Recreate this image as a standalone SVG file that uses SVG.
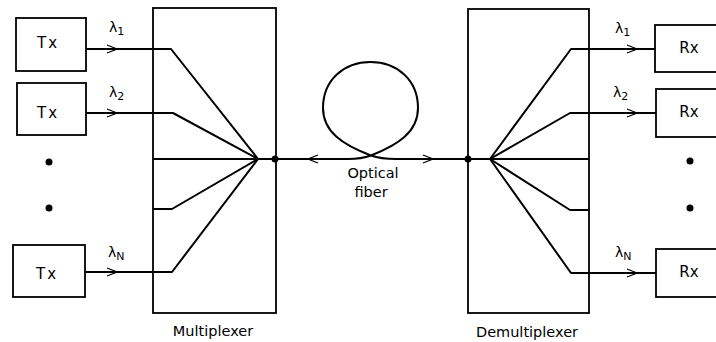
<svg xmlns="http://www.w3.org/2000/svg" width="716" height="342" viewBox="0 0 716 342">
<style>
.box{fill:none;stroke:#000;stroke-width:1.8}
.ln{fill:none;stroke:#000;stroke-width:2;stroke-linejoin:round}
.ar{fill:none;stroke:#000;stroke-width:1.3}
.t{font-family:"DejaVu Sans","Liberation Sans",sans-serif;font-size:15px;fill:#000;text-anchor:middle}
.s{font-family:"DejaVu Sans","Liberation Sans",sans-serif;font-size:14.5px;fill:#000;text-anchor:middle}
.l{font-family:"DejaVu Sans","Liberation Sans",sans-serif;font-size:14px;fill:#000}
</style>
<rect width="716" height="342" fill="#fff"/>
<g id="tx1"><rect class="box" x="16" y="18" width="70" height="53"/><text class="t" x="48" y="48" letter-spacing="2">Tx</text></g>
<g id="tx2"><rect class="box" x="17" y="83" width="69" height="52"/><text class="t" x="48" y="118" letter-spacing="2">Tx</text></g>
<g id="txN"><rect class="box" x="13" y="245" width="72" height="52"/><text class="t" x="47" y="279" letter-spacing="2">Tx</text></g>
<g id="dotsL"><circle cx="49" cy="162" r="3.5"/><circle cx="49" cy="208" r="3.5"/></g>
<g id="mux"><rect class="box" x="153" y="8" width="123" height="305"/><text class="s" x="213" y="336">Multiplexer</text></g>
<g id="demux"><rect class="box" x="468" y="9" width="121" height="304"/><text class="s" x="527" y="337">Demultiplexer</text></g>
<g id="rx1"><rect class="box" x="655" y="25" width="70" height="47"/><text class="t" x="689" y="53">Rx</text></g>
<g id="rx2"><rect class="box" x="656" y="89" width="70" height="48"/><text class="t" x="689" y="117">Rx</text></g>
<g id="rxN"><rect class="box" x="656" y="249" width="70" height="48"/><text class="t" x="689" y="277">Rx</text></g>
<g id="dotsR"><circle cx="690" cy="161" r="3.5"/><circle cx="690" cy="208" r="3.5"/></g>
<g id="labels">
<text class="l" x="109" y="32">λ<tspan font-size="11" dy="3">1</tspan></text>
<text class="l" x="109" y="97">λ<tspan font-size="11" dy="3">2</tspan></text>
<text class="l" x="108" y="257">λ<tspan font-size="11" dy="3">N</tspan></text>
<text class="l" x="615" y="33">λ<tspan font-size="11" dy="3">1</tspan></text>
<text class="l" x="613" y="97">λ<tspan font-size="11" dy="3">2</tspan></text>
<text class="l" x="615" y="257">λ<tspan font-size="11" dy="3">N</tspan></text>
<text class="s" x="373" y="178">Optical</text>
<text class="s" x="371" y="197">fiber</text>
</g>
<g id="connectors">
<polyline class="ln" points="86,49 171,49 258,159"/>
<polyline class="ln" points="86,113 173,113 258,159"/>
<polyline class="ln" points="153,159 258,159"/>
<polyline class="ln" points="153,209 172,209 258,159"/>
<polyline class="ln" points="85,272 172,272 258,159"/>
<path class="ar" d="M107,45 L117,49 L107,53 M107,109 L117,113 L107,117 M107,268 L117,272 L107,276"/>
<path class="ln" d="M258,159 L348,159 C358,159 364,158 371,155.5 C398,145 418,132 418,108 C418,80 397,62 370.5,62 C344,62 323,80 323,108 C323,132 343,145 371,155.5 C378,158 385,159 396,159 L490,159"/>
<path class="ar" d="M318,155 L308,159 L318,163 M423,155 L433,159 L423,163"/>
<circle cx="275" cy="159" r="3.5"/>
<circle cx="468" cy="159" r="3.5"/>
<polyline class="ln" points="490,159 571,49 655,49"/>
<polyline class="ln" points="490,159 570,113 656,113"/>
<polyline class="ln" points="490,159 589,159"/>
<polyline class="ln" points="490,159 570,210 589,210"/>
<polyline class="ln" points="490,159 571,273 656,273"/>
<path class="ar" d="M627,45 L637,49 L627,53 M627,109 L637,113 L627,117 M627,269 L637,273 L627,277"/>
</g>
</svg>
